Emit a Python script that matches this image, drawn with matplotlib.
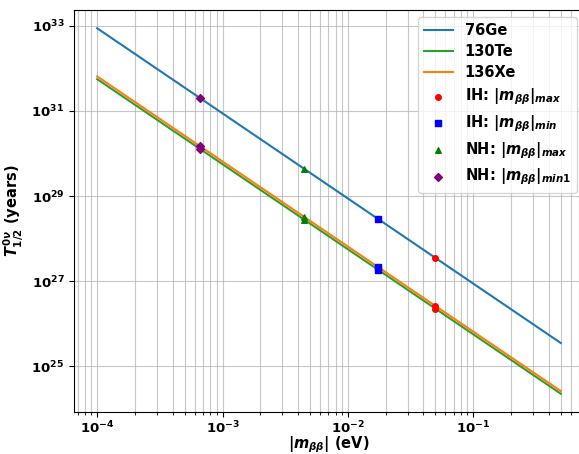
import matplotlib
matplotlib.use("Agg")
import matplotlib.pyplot as plt

plt.rcParams["font.weight"] = "bold"
plt.rcParams["axes.labelweight"] = "bold"
plt.rcParams["mathtext.fontset"] = "custom"
plt.rcParams["mathtext.rm"] = "DejaVu Sans:bold"
plt.rcParams["mathtext.it"] = "DejaVu Sans:italic:bold"
plt.rcParams["mathtext.bf"] = "DejaVu Sans:bold"

# effective mass range (eV) and half-lives (years) at its ends
m_ends = [1e-4, 0.5]
isotopes = ["76Ge", "130Te", "136Xe"]
line_colors = ["tab:blue", "tab:green", "tab:orange"]
t_ends = {
    "76Ge": [8.8e32, 3.5e25],
    "130Te": [5.6e31, 2.25e24],
    "136Xe": [6.5e31, 2.6e24],
}

# benchmark |m_bb| values and half-lives on each isotope line (Ge, Te, Xe)
point_labels = [r"IH: $|m_{\beta\beta}|_{max}$", r"IH: $|m_{\beta\beta}|_{min}$",
                r"NH: $|m_{\beta\beta}|_{max}$", r"NH: $|m_{\beta\beta}|_{min1}$"]
point_m = [0.05, 0.0173, 0.0045, 0.00066]
point_t = [
    [3.52e27, 2.24e26, 2.6e26],
    [2.94e28, 1.87e27, 2.17e27],
    [4.35e29, 2.77e28, 3.21e28],
    [2.02e31, 1.29e30, 1.49e30],
]
point_colors = ["red", "blue", "green", "purple"]
point_markers = ["o", "s", "^", "D"]

fig = plt.figure(figsize=(5.79, 4.54), dpi=100)
ax = fig.add_axes([74 / 579, 42 / 454, 510 / 579, 402 / 454])

for name, color in zip(isotopes, line_colors):
    ax.plot(m_ends, t_ends[name], color=color, lw=1.5, label=name)

for label, m, ts, c, mk in zip(point_labels, point_m, point_t, point_colors, point_markers):
    ax.scatter([m] * len(ts), ts, color=c, marker=mk, s=16, zorder=3, label=label)

ax.set_xscale("log")
ax.set_yscale("log")
ax.set_xlabel(r"$|m_{\beta\beta}|$ (eV)", fontsize=10.5, labelpad=-1)
ax.set_ylabel(r"$T^{0\nu}_{1/2}$ (years)", fontsize=10.5)
ax.tick_params(labelsize=9.5)
ax.tick_params(axis="x", pad=2)
ax.grid(True, which="major", alpha=0.7)
ax.xaxis.grid(True, which="minor", alpha=0.7)
ax.legend(loc="upper right", prop={"weight": "bold", "size": 10.5}, labelspacing=0.42)

fig.savefig("out.png", dpi=100)
